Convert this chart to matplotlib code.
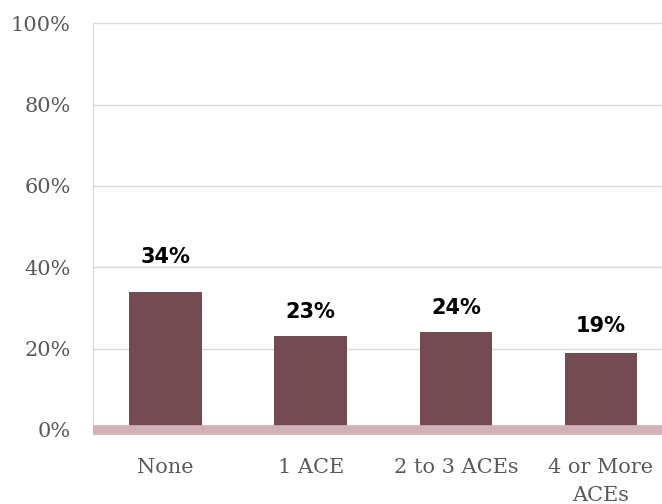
import matplotlib.pyplot as plt
from matplotlib.ticker import PercentFormatter

# share of respondents by number of adverse childhood experiences
categories = ['None', '1 ACE', '2 to 3 ACEs', '4 or More\nACEs']
shares = [34, 23, 24, 19]
yticks = [0, 20, 40, 60, 80, 100]

bar_color = '#744B53'
axis_color = '#D1B0B6'
grid_color = '#D9D9D9'
label_pad = [18, 10, 10, 12]  # points above each bar

fig = plt.figure(figsize=(6.62, 5.04), dpi=100)
ax = fig.add_axes([0.1405, 0.147, 0.8595, 0.807])

x = range(len(categories))
bars = ax.bar(x, shares, width=0.5, color=bar_color, zorder=3)

for rect, val, pad in zip(bars, shares, label_pad):
    ax.annotate(f'{val}%', (rect.get_x() + rect.get_width() / 2, val),
                xytext=(0, pad), textcoords='offset points',
                ha='center', va='bottom', fontsize=15, fontweight='bold',
                family='DejaVu Sans', color='black')

ax.set_ylim(0, 100)
ax.set_xlim(-0.5, 3.42)
ax.set_yticks(yticks)
ax.yaxis.set_major_formatter(PercentFormatter(decimals=0))
ax.set_xticks(list(x))
ax.set_xticklabels(categories, linespacing=1.65)

ax.grid(axis='y', color=grid_color, linewidth=1, zorder=0)
ax.axhline(0, color=axis_color, linewidth=7, zorder=4, clip_on=False,
           solid_capstyle='butt')

for side in ['top', 'right', 'bottom']:
    ax.spines[side].set_visible(False)
ax.spines['left'].set_color('#DCD6D8')

ax.tick_params(length=0, labelcolor='#595959')
ax.tick_params(axis='x', pad=20)
ax.tick_params(axis='y', pad=16)
for lbl in ax.get_xticklabels() + ax.get_yticklabels():
    lbl.set_family('DejaVu Serif')
    lbl.set_fontsize(15)

fig.savefig('out.png', dpi=100)
